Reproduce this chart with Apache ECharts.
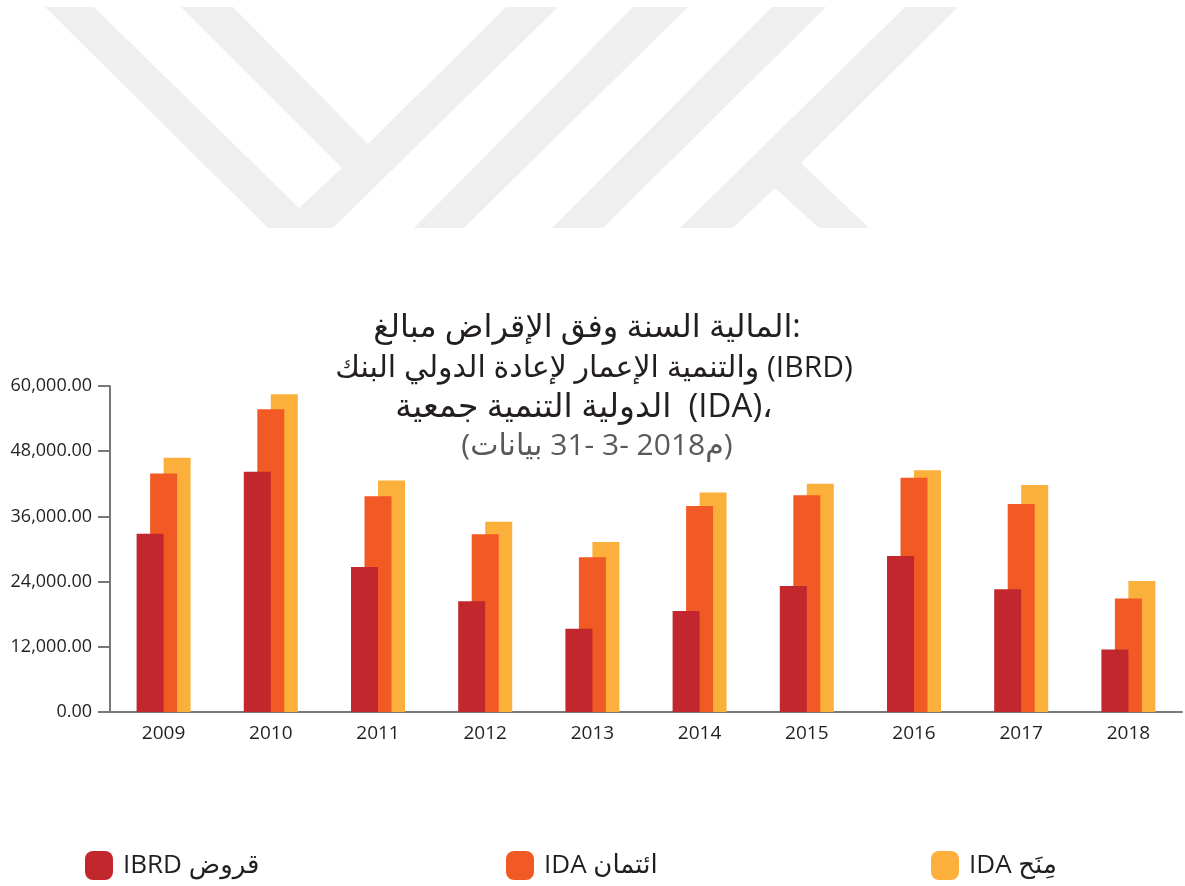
<!DOCTYPE html>
<html>
<head>
<meta charset="utf-8">
<title>IBRD / IDA</title>
<script src="https://cdn.jsdelivr.net/npm/echarts@6/dist/echarts.min.js"></script>
<style>
  html, body { margin: 0; padding: 0; background: #fff; }
  #chart { width: 1185px; height: 886px; }
</style>
</head>
<body>
<div id="chart"></div>
<script>
// السنوات المالية
var years = ['2009', '2010', '2011', '2012', '2013', '2014', '2015', '2016', '2017', '2018'];
// قروض IBRD
var ibrdLoans = [32800, 44200, 26700, 20400, 15300, 18600, 23200, 28700, 22600, 11500];
// ائتمان IDA
var idaCredits = [43900, 55700, 39700, 32700, 28500, 37900, 39900, 43100, 38300, 20900];
// منح IDA
var idaGrants = [46800, 58500, 42600, 35000, 31300, 40400, 42000, 44500, 41800, 24100];
var yTicks = [0, 12000, 24000, 36000, 48000, 60000];

var titleLines = [
  'مبالغ الإقراض وفق السنة المالية:',
  'البنك الدولي لإعادة الإعمار والتنمية (IBRD)',
  'جمعية التنمية الدولية  (IDA)،',
  '(بيانات 31- 3- 2018م)'
];
var seriesNames = ['IBRD قروض', 'IDA ائتمان', 'IDA مِنَح'];
var colors = ['#c1272d', '#f15a24', '#fbb03b'];

var FONT = "'Open Sans', 'DejaVu Sans', sans-serif";

var pill = 'path://M8,0H20A8,8,0,0,1,28,8V21A8,8,0,0,1,20,29H8A8,8,0,0,1,0,21V8A8,8,0,0,1,8,0Z';

// شعار خلفي باهت
var markShapes = [
  [[45, 7], [94, 7], [299, 208], [342, 168], [181, 7], [233, 7], [368, 144], [506, 7], [558, 7], [333, 228], [268, 228]],
  [[633, 7], [688, 7], [464, 228], [414, 228]],
  [[772, 7], [826, 7], [603, 228], [552, 228]],
  [[905, 7], [958, 7], [801, 163], [869, 228], [819, 228], [775, 188], [733, 228], [680, 228]]
];

var chart = echarts.init(document.getElementById('chart'), null, { renderer: 'canvas' });

// في الصورة الكلمات مرتبة من اليسار الى اليمين، لذلك تُرسم كل كلمة وحدها
var measureCtx = document.createElement('canvas').getContext('2d');
function textWidth(t, size) {
  measureCtx.font = size + 'px ' + FONT;
  return measureCtx.measureText(t).width;
}

var titleSizes = [32, 30, 33, 30];
var titleY = [328, 368, 408, 446];
var titleCenter = [587, 594, 584, 597];
var titleTexts = [];
titleLines.forEach(function (line, i) {
  var size = titleSizes[i];
  var words = line.split(' ');
  var sp = textWidth(' ', size);
  var total = 0;
  words.forEach(function (w, k) { total += textWidth(w, size) + (k ? sp : 0); });
  var x = titleCenter[i] - total / 2;
  words.forEach(function (w, k) {
    if (k) x += sp;
    if (w) {
      titleTexts.push({
        type: 'text',
        silent: true,
        x: x,
        y: titleY[i],
        style: {
          text: w,
          fontFamily: FONT,
          fontSize: size,
          fill: i === 3 ? '#58595b' : '#231f20',
          align: 'left',
          verticalAlign: 'middle'
        }
      });
    }
    x += textWidth(w, size);
  });
});

var legendLeft = [80, 501, 926];
var legends = seriesNames.map(function (n, i) {
  return {
    data: [n],
    left: legendLeft[i],
    top: 846,
    icon: pill,
    itemWidth: 28,
    itemHeight: 29,
    itemGap: 0,
    selectedMode: false,
    textStyle: { fontFamily: FONT, fontSize: 26, color: '#231f20', padding: [0, 0, 0, 5] }
  };
});

var dataArr = [ibrdLoans, idaCredits, idaGrants];
var series = seriesNames.map(function (n, i) {
  return {
    name: n,
    type: 'bar',
    data: dataArr[i],
    barWidth: 27,
    barGap: '-50%',
    z: 4 - i,
    itemStyle: { color: colors[i] }
  };
});

var markGraphics = markShapes.map(function (pts) {
  return {
    type: 'polygon',
    z: -10,
    silent: true,
    shape: { points: pts },
    style: { fill: '#efefef' }
  };
});

chart.setOption({
  animation: false,
  color: colors,
  legend: legends,
  graphic: markGraphics.concat(titleTexts),
  grid: {
    left: 110,
    right: 3,
    top: 386,
    bottom: 174
  },
  xAxis: {
    type: 'category',
    data: years,
    axisLine: { lineStyle: { color: '#77787b', width: 2 } },
    axisTick: { length: 11, lineStyle: { color: '#77787b', width: 2 } },
    axisLabel: { margin: 12, fontFamily: FONT, fontSize: 19, color: '#231f20' }
  },
  yAxis: {
    type: 'value',
    min: yTicks[0],
    max: yTicks[yTicks.length - 1],
    interval: yTicks[1] - yTicks[0],
    splitLine: { show: false },
    axisLine: { show: true, lineStyle: { color: '#77787b', width: 2 } },
    axisTick: { show: true, length: 12, lineStyle: { color: '#77787b', width: 2 } },
    axisLabel: {
      margin: 18,
      fontFamily: FONT,
      fontSize: 18,
      color: '#231f20',
      formatter: function (v) {
        return v.toLocaleString('en-US', { minimumFractionDigits: 2, maximumFractionDigits: 2 });
      }
    }
  },
  series: series
});
</script>
</body>
</html>
